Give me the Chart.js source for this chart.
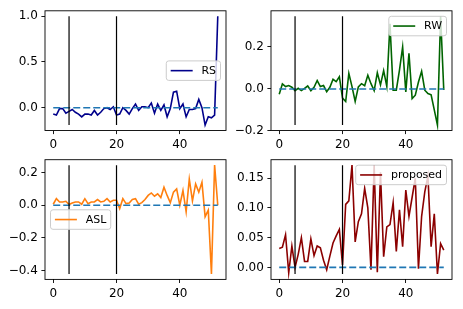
<!DOCTYPE html>
<html><head><meta charset="utf-8">
<script src="https://cdn.jsdelivr.net/npm/chart.js@4"></script>
<style>
html,body{margin:0;padding:0;background:#fff;}
#wrap{position:relative;width:463px;height:309px;overflow:hidden;background:#fff;}
canvas{position:absolute;left:0;top:0;}
</style></head><body><div id="wrap">
<canvas id="c0" width="463" height="309"></canvas>
<canvas id="c1" width="463" height="309"></canvas>
<canvas id="c2" width="463" height="309"></canvas>
<canvas id="c3" width="463" height="309"></canvas>
</div>
<script>
// ---- data ----
const xTicks = [0, 20, 40];
const vlineX = [5, 20];
const rsValues = [-0.07,-0.08,-0.01,-0.01,-0.06,-0.04,-0.02,-0.05,-0.07,-0.10,-0.07,-0.07,-0.08,-0.03,-0.08,-0.05,-0.01,0.0,-0.02,0.01,-0.08,-0.07,0.0,-0.03,-0.07,-0.01,0.04,-0.03,0.01,0.01,0.0,0.05,-0.06,0.04,-0.03,0.03,-0.10,-0.01,0.17,0.18,-0.01,0.04,-0.10,-0.02,-0.02,-0.01,0.09,0.0,-0.19,-0.10,-0.11,-0.08,1.0];
const rwValues = [-0.025,0.024,0.011,0.016,0.008,-0.008,0.003,-0.008,0.003,0.014,-0.008,0.008,0.04,0.011,0.016,-0.013,0.008,0.046,0.035,0.058,-0.044,-0.06,0.074,0.011,-0.06,0.01,0.025,0.015,0.065,0.025,-0.008,0.077,0.019,0.087,0.011,0.31,-0.006,-0.006,0.09,0.20,-0.014,0.17,-0.046,-0.03,0.033,0.084,-0.006,-0.022,-0.028,-0.10,-0.172,0.346,-0.005];
const aslValues = [0.006,0.04,0.02,0.02,0.024,0.004,0.014,0.02,0.02,0.006,0.04,0.01,0.02,0.02,0.035,0.02,0.024,0.04,0.02,0.03,0.03,-0.02,0.04,0.01,0.014,0.035,0.04,0.006,0.016,0.035,0.06,0.075,0.055,0.07,0.047,0.11,0.06,0.015,0.08,0.10,0.0,0.09,-0.04,0.16,0.027,0.13,0.08,0.14,-0.07,-0.03,-0.42,0.245,0.0];
const proposedValues = [0.032,0.034,0.055,-0.009,0.036,0.0,0.022,0.05,0.01,0.01,0.048,0.02,0.036,0.033,0.012,-0.004,0.019,0.041,0.053,0.064,0.004,0.106,0.112,0.172,0.043,0.077,0.09,0.133,0.10,-0.004,0.172,-0.008,0.16,0.018,0.068,0.072,0.109,0.027,0.097,0.035,0.13,0.086,0.118,0.15,-0.002,0.086,0.127,0.154,0.035,0.09,-0.011,0.04,0.029];
const rsYTicks = [0.0, 0.5, 1.0];
const rsYLabels = ['0.0', '0.5', '1.0'];
const rwYTicks = [-0.2, 0.0, 0.2];
const rwYLabels = ['\u22120.2', '0.0', '0.2'];
const aslYTicks = [-0.4, -0.2, 0.0, 0.2];
const aslYLabels = ['\u22120.4', '\u22120.2', '0.0', '0.2'];
const proposedYTicks = [0.0, 0.05, 0.10, 0.15];
const proposedYLabels = ['0.00', '0.05', '0.10', '0.15'];
const seriesNames = ['RS', 'RW', 'ASL', 'proposed'];

// ---- style / layout ----
const FS = 12;              // tick font px
const LFS = 11;             // legend font px
const LW = 1.6;             // line width
const VLW = 1.2;            // vertical line width
const TICKLEN = 3.6;
const TICKPAD = 3.6;
const SPINE = 0.9;
const FONT = 'DejaVu Sans';
const Y_AXIS_W = 40, X_AXIS_H = 24;

const panels = [
  {id:'c0', values: rsValues, name: seriesNames[0], color:'#00008b', yt: rsYTicks, yl: rsYLabels, box:[45, 10.5, 226, 130.5], loc:'center right'},
  {id:'c1', values: rwValues, name: seriesNames[1], color:'#006400', yt: rwYTicks, yl: rwYLabels, box:[271, 10.5, 452, 130.5], loc:'upper right'},
  {id:'c2', values: aslValues, name: seriesNames[2], color:'#ff7f0e', yt: aslYTicks, yl: aslYLabels, box:[45, 159.7, 226, 279.4], loc:'center left'},
  {id:'c3', values: proposedValues, name: seriesNames[3], color:'#8b0000', yt: proposedYTicks, yl: proposedYLabels, box:[271, 159.7, 452, 279.4], loc:'upper right'}
];

const framePlugin = {
  id: 'frame',
  afterDatasetsDraw(chart) {
    const a = chart.chartArea, ctx = chart.ctx;
    ctx.save();
    ctx.strokeStyle = '#000';
    ctx.lineWidth = SPINE;
    ctx.strokeRect(a.left, a.top, a.right - a.left, a.bottom - a.top);
    ctx.restore();
  }
};

function roundRect(ctx, x, y, w, h, r) {
  ctx.beginPath();
  ctx.moveTo(x + r, y);
  ctx.lineTo(x + w - r, y); ctx.quadraticCurveTo(x + w, y, x + w, y + r);
  ctx.lineTo(x + w, y + h - r); ctx.quadraticCurveTo(x + w, y + h, x + w - r, y + h);
  ctx.lineTo(x + r, y + h); ctx.quadraticCurveTo(x, y + h, x, y + h - r);
  ctx.lineTo(x, y + r); ctx.quadraticCurveTo(x, y, x + r, y);
  ctx.closePath();
}

const legendPlugin = {
  id: 'mplLegend',
  afterDraw(chart, args, opts) {
    const a = chart.chartArea, ctx = chart.ctx;
    ctx.save();
    ctx.font = LFS + 'px "' + FONT + '"';
    const tw = ctx.measureText(opts.text).width;
    const w = 0.4*LFS + 2*LFS + 0.8*LFS + tw + 0.4*LFS;
    const h = 19.5;
    const pad = 0.5*LFS;
    let x, y;
    if (opts.loc.indexOf('right') >= 0) x = a.right - pad - w; else x = a.left + pad;
    if (opts.loc.indexOf('upper') >= 0) y = a.top + pad; else y = (a.top + a.bottom)/2 - h/2;
    roundRect(ctx, x, y, w, h, 2.5);
    ctx.fillStyle = 'rgba(255,255,255,0.8)';
    ctx.fill();
    ctx.strokeStyle = '#cccccc';
    ctx.lineWidth = 1;
    ctx.stroke();
    const cy = y + h/2;
    ctx.beginPath();
    ctx.moveTo(x + 0.4*LFS, cy);
    ctx.lineTo(x + 2.4*LFS, cy);
    ctx.strokeStyle = opts.color;
    ctx.lineWidth = LW;
    ctx.stroke();
    ctx.fillStyle = '#000';
    ctx.textBaseline = 'middle';
    ctx.textAlign = 'left';
    ctx.fillText(opts.text, x + 3.2*LFS, cy + 0.5);
    ctx.restore();
  }
};

panels.forEach(p => {
  const n = p.values.length;
  const xMin = 0, xMax = n - 1;
  const dMin = Math.min(...p.values), dMax = Math.max(...p.values);
  const yLo = Math.min(dMin, 0), yHi = Math.max(dMax, 0);
  const ym = (yHi - yLo) * 0.05, xm = (xMax - xMin) * 0.05;
  const series = p.values.map((v, i) => ({x: i, y: v}));
  const datasets = [
    {data: series, borderColor: p.color, borderWidth: LW, pointRadius: 0, tension: 0, order: 3},
    {data: [{x: xMin, y: 0}, {x: xMax, y: 0}], borderColor: '#1f77b4', borderWidth: LW, borderDash: [7, 3], pointRadius: 0, order: 2}
  ];
  vlineX.forEach(vx => datasets.push({data: [{x: vx, y: dMin}, {x: vx, y: dMax}], borderColor: '#000', borderWidth: VLW, pointRadius: 0, order: 1}));
  const [L, T, R, B] = p.box;
  new Chart(document.getElementById(p.id), {
    type: 'line',
    data: {datasets},
    options: {
      responsive: false, animation: false, devicePixelRatio: 1,
      layout: {padding: {left: L - Y_AXIS_W, top: T, right: 463 - R, bottom: 309 - B - X_AXIS_H}},
      plugins: {legend: {display: false}, tooltip: {enabled: false},
        mplLegend: {text: p.name, color: p.color, loc: p.loc}},
      scales: {
        x: {type: 'linear', min: xMin - xm, max: xMax + xm,
          afterBuildTicks: s => { s.ticks = xTicks.map(v => ({value: v})); },
          afterFit: s => { s.height = X_AXIS_H; },
          ticks: {font: {family: FONT, size: FS}, color: '#000', padding: TICKPAD, maxRotation: 0, autoSkip: false,
            callback: (v) => String(v)},
          grid: {display: true, drawOnChartArea: false, drawTicks: true, tickLength: TICKLEN, tickWidth: SPINE, tickColor: '#000'},
          border: {display: false}
        },
        y: {type: 'linear', min: yLo - ym, max: yHi + ym,
          afterBuildTicks: s => { s.ticks = p.yt.map(v => ({value: v})); },
          afterFit: s => { s.width = Y_AXIS_W; },
          ticks: {font: {family: FONT, size: FS}, color: '#000', padding: TICKPAD, autoSkip: false,
            callback: (v, i) => p.yl[i]},
          grid: {display: true, drawOnChartArea: false, drawTicks: true, tickLength: TICKLEN, tickWidth: SPINE, tickColor: '#000'},
          border: {display: false}
        }
      }
    },
    plugins: [framePlugin, legendPlugin]
  });
});
</script>
</body></html>
